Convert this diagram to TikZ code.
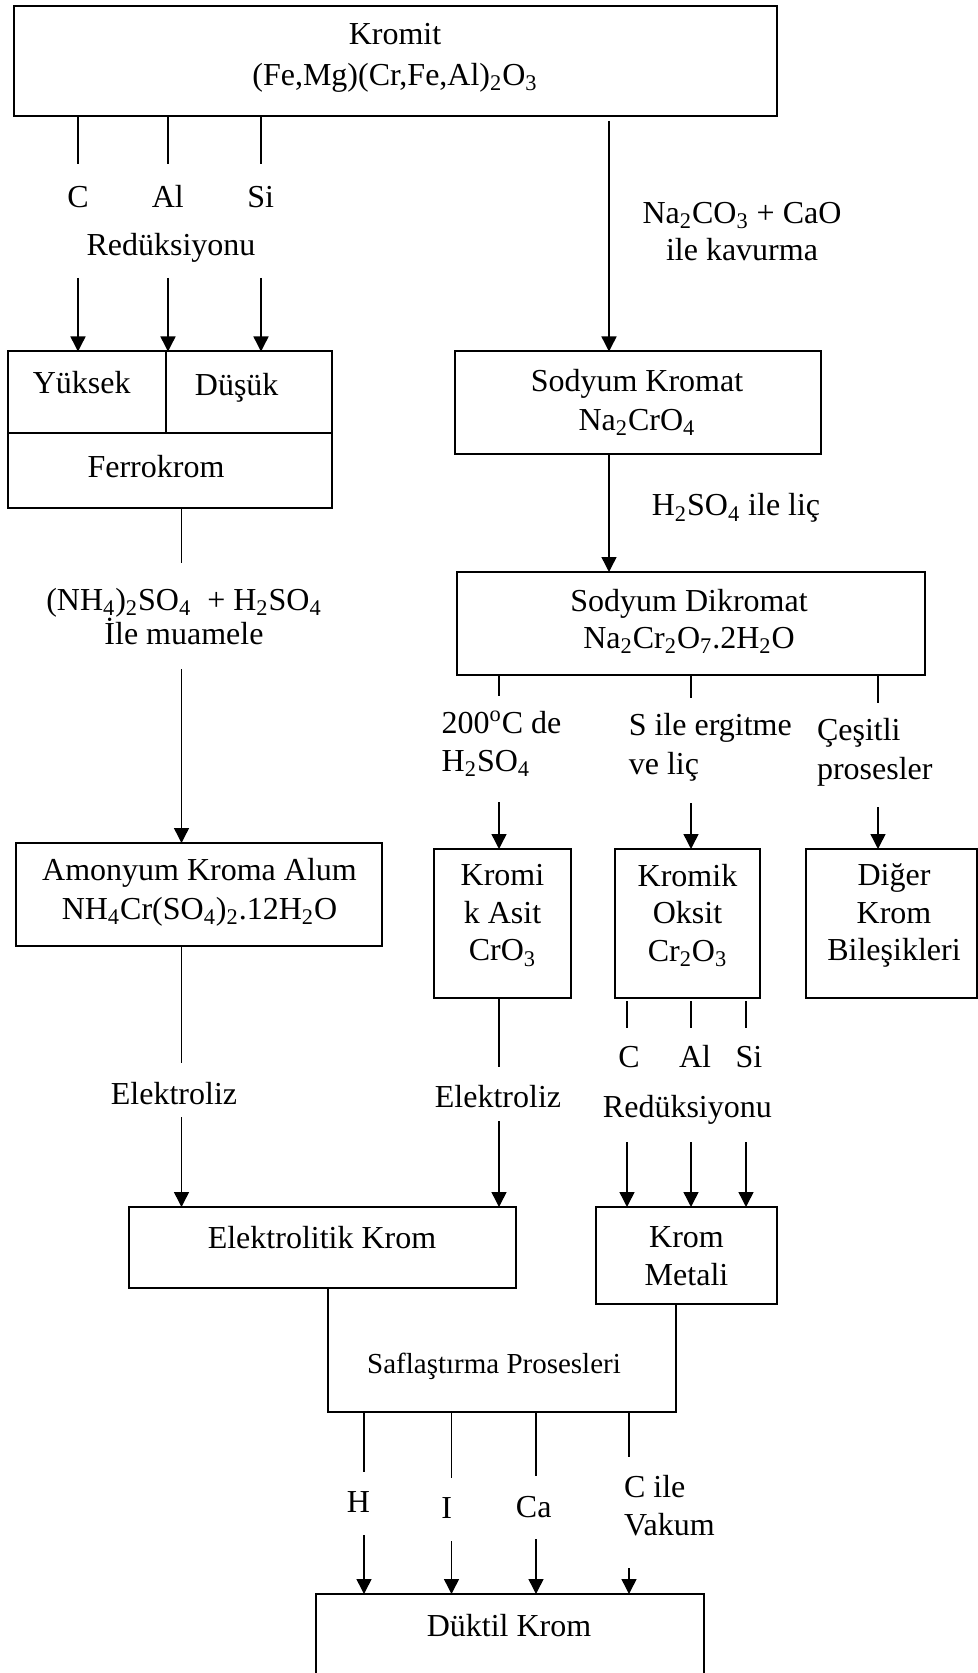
\documentclass[tikz,border=0pt]{standalone}
\usepackage{fontspec}
\setmainfont{Liberation Serif}
\usetikzlibrary{arrows.meta}
\begin{document}
\begin{tikzpicture}[x=0.5pt,y=-0.5pt,
  every node/.style={inner sep=0pt, outer sep=0pt},
  txt/.style={font=\fontsize{16}{18.75}\selectfont, align=center},
  ltxt/.style={font=\fontsize{16}{18.75}\selectfont, align=left, anchor=west},
  smalltxt/.style={font=\fontsize{14.5}{17}\selectfont},
  bx/.style 2 args={draw, line width=1pt, minimum width=#1*0.5pt, minimum height=#2*0.5pt},
  ln/.style={line width=0.72pt},
  arr/.style={line width=0.72pt, -{Triangle[length=7.5pt,width=7.5pt]}}]
\useasboundingbox (0,0) rectangle (978,1673);

% ---------- boxes ----------
\node[bx={763.3}{110}] (kromit) at (395.35,61) {};
\node[bx={323.5}{156.5}] (ferro) at (169.75,429.75) {};
\node[bx={366}{102.5}] (sodk) at (638,402.75) {};
\node[bx={468}{103}] (dikr) at (691,623.5) {};
\node[bx={366}{103}] (amon) at (199,894.5) {};
\node[bx={137}{149}] (kasit) at (502.5,923.5) {};
\node[bx={145}{149}] (koksit) at (687.5,923.5) {};
\node[bx={171}{149}] (diger) at (891.5,923.5) {};
\node[bx={387.5}{81}] (elek) at (322.25,1247.5) {};
\node[bx={181}{97}] (kmet) at (686.5,1255.5) {};
\node[minimum width=348*0.5pt, minimum height=124*0.5pt] (saf) at (501.5,1350) {};
\node[bx={387.5}{106}] (duktil) at (509.75,1647) {};

% ferrokrom dividers
\coordinate (fdiv) at (166,433);
\draw[line width=1pt] (ferro.west |- fdiv) -- (ferro.east |- fdiv);
\draw[line width=1pt] (ferro.north -| fdiv) -- (fdiv);

% saflastirma open box
\draw[line width=1pt] (saf.north west |- elek.south) -- (saf.south west) -- (saf.south east) -- (saf.south east |- kmet.south);

% ---------- box texts ----------
\node[txt] (kromitT) at (395,57.5) {Kromit\\[1.75pt](Fe,Mg)(Cr,Fe,Al)\textsubscript{2}O\textsubscript{3}};
\node[txt] (yuksekT) at (81.7,383) {Yüksek};
\node[txt] (dusukT) at (236.7,388) {Düşük};
\node[txt] (ferroT) at (156,467) {Ferrokrom};
\node[txt] (sodkT) at (637,402.5) {Sodyum Kromat\\[0.75pt]Na\textsubscript{2}CrO\textsubscript{4}};
\node[txt] (dikrT) at (689,621.5) {Sodyum Dikromat\\Na\textsubscript{2}Cr\textsubscript{2}O\textsubscript{7}.2H\textsubscript{2}O};
\node[txt] (amonT) at (199.5,892.5) {Amonyum Kroma Alum\\[0.75pt]NH\textsubscript{4}Cr(SO\textsubscript{4})\textsubscript{2}.12H\textsubscript{2}O};
\node[txt] (kasitT) at (502.5,915.5) {Kromi\\k Asit\\CrO\textsubscript{3}};
\node[txt] (koksitT) at (687.5,915.5) {Kromik\\Oksit\\Cr\textsubscript{2}O\textsubscript{3}};
\node[txt] (digerT) at (894,915.5) {Diğer\\Krom\\Bileşikleri};
\node[txt] (elekT) at (322,1238) {Elektrolitik Krom};
\node[txt] (kmetT) at (686.5,1256) {Krom\\Metali};
\node[smalltxt] (safT) at (494,1366) {Saflaştırma Prosesleri};
\node[txt] (duktilT) at (509,1626) {Düktil Krom};

% ---------- Kromit -> Ferrokrom ----------
\coordinate (k1) at (78,164);
\coordinate (k2) at (168,164);
\coordinate (k3) at (261,164);
\draw[ln] (kromit.south -| k1) -- (k1);
\draw[ln] (kromit.south -| k2) -- (k2);
\draw[ln] (kromit.south -| k3) -- (k3);
\node[txt] (lC1) at (78,196.7) {C};
\node[txt] (lAl1) at (167.8,196.7) {Al};
\node[txt] (lSi1) at (260.7,196.7) {Si};
\node[txt] (lRed1) at (171,247.5) {Redüksiyonu};
\coordinate (k1b) at (78,278);
\coordinate (k2b) at (168,278);
\coordinate (k3b) at (261,278);
\draw[arr] (k1b) -- (ferro.north -| k1b);
\draw[arr] (k2b) -- (ferro.north -| k2b);
\draw[arr] (k3b) -- (ferro.north -| k3b);

% ---------- Kromit -> Sodyum Kromat ----------
\coordinate (kr) at (609,121);
\draw[arr] (kr) -- (sodk.north -| kr);
\node[txt] (lNa) at (742,231.7) {Na\textsubscript{2}CO\textsubscript{3} + CaO\\ile kavurma};

% ---------- Ferrokrom -> Amonyum ----------
\coordinate (f1) at (181.5,563);
\draw[ln] (ferro.south -| f1) -- (f1);
\node[txt] (lNH) at (184,616.3) {(NH\textsubscript{4})\textsubscript{2}SO\textsubscript{4}\ \ + H\textsubscript{2}SO\textsubscript{4}\\[-1.75pt]İle muamele};
\coordinate (f1b) at (181.5,669);
\draw[arr] (f1b) -- (amon.north -| f1b);

% ---------- Sodyum Kromat -> Dikromat ----------
\draw[arr] (sodk.south -| kr) -- (dikr.north -| kr);
\node[txt] (lH2) at (736,508.3) {H\textsubscript{2}SO\textsubscript{4} ile liç};

% ---------- Dikromat -> three ----------
\coordinate (d1) at (499,696);
\coordinate (d2) at (691,698);
\coordinate (d3) at (878,703);
\draw[ln] (dikr.south -| d1) -- (d1);
\draw[ln] (dikr.south -| d2) -- (d2);
\draw[ln] (dikr.south -| d3) -- (d3);
\node[ltxt] (l200) at (441.7,743.5) {200\textsuperscript{o}C de\\H\textsubscript{2}SO\textsubscript{4}};
\node[ltxt] (lS) at (628.8,747.5) {S ile ergitme\\[0.75pt]ve liç};
\node[ltxt] (lCes) at (817,752.5) {Çeşitli\\[0.75pt]prosesler};
\coordinate (d1b) at (499,802);
\coordinate (d2b) at (691,803);
\coordinate (d3b) at (878,807);
\draw[arr] (d1b) -- (kasit.north -| d1b);
\draw[arr] (d2b) -- (koksit.north -| d2b);
\draw[arr] (d3b) -- (diger.north -| d3b);

% ---------- Amonyum -> Elektrolitik ----------
\coordinate (a1) at (181.5,1063);
\draw[ln] (amon.south -| a1) -- (a1);
\node[txt] (lEl1) at (174,1093.3) {Elektroliz};
\coordinate (a1b) at (181.5,1117);
\draw[arr] (a1b) -- (elek.north -| a1b);

% ---------- Kromik Asit -> Elektrolitik ----------
\coordinate (s1) at (499,1067);
\draw[ln] (kasit.south -| s1) -- (s1);
\node[txt] (lEl2) at (498,1096.7) {Elektroliz};
\coordinate (s1b) at (499,1121);
\draw[arr] (s1b) -- (elek.north -| s1b);

% ---------- Kromik Oksit -> Krom Metali ----------
\coordinate (o1) at (627,1028);
\coordinate (o2) at (691,1028);
\coordinate (o3) at (746,1028);
\draw[ln] ([yshift=-1.5pt]koksit.south -| o1) -- (o1);
\draw[ln] ([yshift=-1.5pt]koksit.south -| o2) -- (o2);
\draw[ln] ([yshift=-1.5pt]koksit.south -| o3) -- (o3);
\node[txt] (lC2) at (629,1056.7) {C};
\node[txt] (lAl2) at (695,1056.7) {Al};
\node[txt] (lSi2) at (749,1056.7) {Si};
\node[txt] (lRed2) at (687.4,1110) {Redüksiyonu};
\coordinate (o1b) at (627,1142);
\coordinate (o2b) at (691,1142);
\coordinate (o3b) at (746,1142);
\draw[arr] (o1b) -- (kmet.north -| o1b);
\draw[arr] (o2b) -- (kmet.north -| o2b);
\draw[arr] (o3b) -- (kmet.north -| o3b);

% ---------- Saflastirma -> Duktil ----------
\coordinate (p1) at (364,1472);
\coordinate (p2) at (451.5,1478);
\coordinate (p3) at (536,1476);
\coordinate (p4) at (629,1457);
\draw[ln] (saf.south -| p1) -- (p1);
\draw[ln] (saf.south -| p2) -- (p2);
\draw[ln] (saf.south -| p3) -- (p3);
\draw[ln] (saf.south -| p4) -- (p4);
\node[txt] (lH) at (358.3,1502.3) {H};
\node[txt] (lI) at (446.6,1508.3) {I};
\node[txt] (lCa) at (533.7,1506.7) {Ca};
\node[ltxt] (lCile) at (624,1505.5) {C ile\\Vakum};
\coordinate (p1b) at (364,1535);
\coordinate (p2b) at (451.5,1541);
\coordinate (p3b) at (536,1539);
\coordinate (p4b) at (629,1568);
\draw[arr] (p1b) -- (duktil.north -| p1b);
\draw[arr] (p2b) -- (duktil.north -| p2b);
\draw[arr] (p3b) -- (duktil.north -| p3b);
\draw[arr] (p4b) -- (duktil.north -| p4b);
\end{tikzpicture}
\end{document}
